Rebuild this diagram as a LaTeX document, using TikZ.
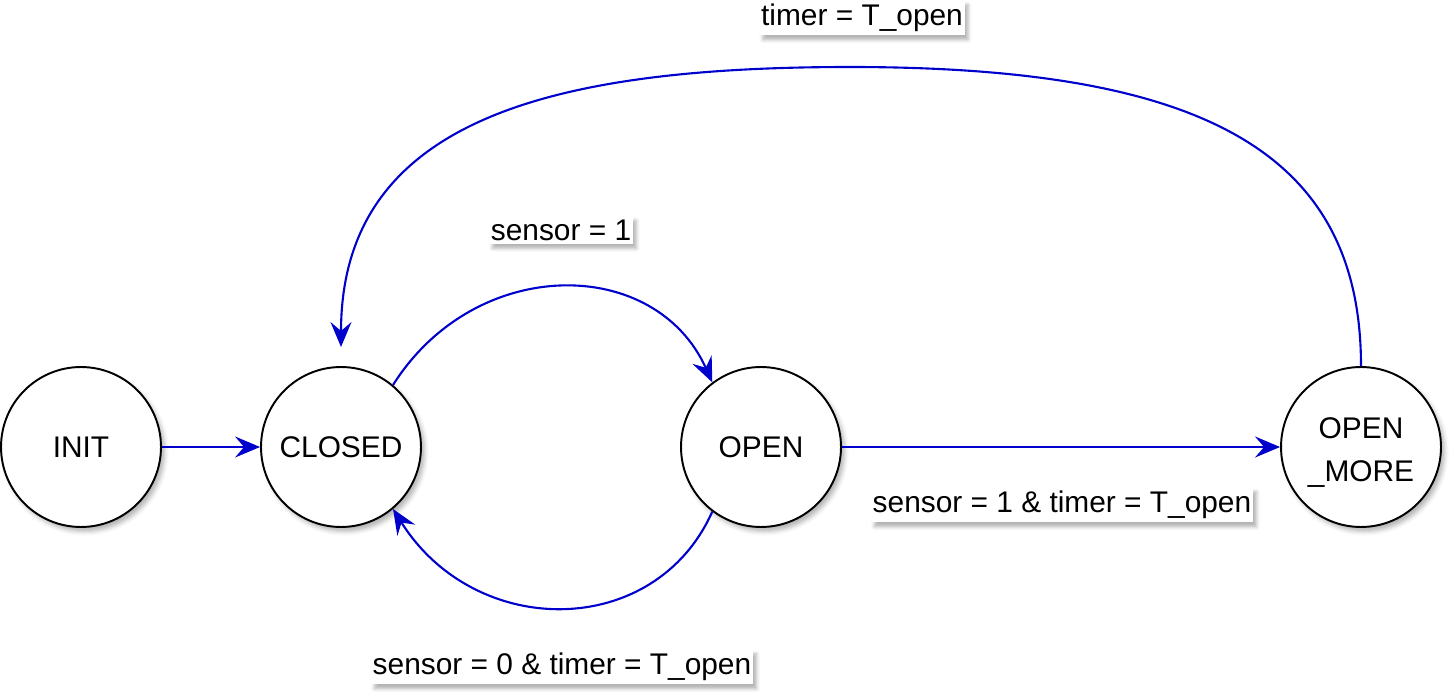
\documentclass[tikz,border=0pt]{standalone}
\usepackage{fontspec}
\setmainfont{Liberation Sans}
\usetikzlibrary{arrows.meta,shadows.blur}
\definecolor{edgeblue}{HTML}{0000CC}

\begin{document}
\begin{tikzpicture}
  [x=0.02cm,y=-0.02cm,every node/.style={font=\fontsize{17}{24.4}\selectfont}]
 \tikzset{StateStyle/.style={circle,draw,line width=1.1pt,fill=white,minimum size=3.2cm,inner sep=0pt,align=center,
   blur shadow={shadow xshift=2pt,shadow yshift=-2.5pt,shadow blur radius=2.5pt,shadow opacity=30}}}
 \tikzset{LabelStyle/.style={fill=white,inner xsep=1pt,inner ysep=2pt,
   blur shadow={shadow xshift=2pt,shadow yshift=-2.5pt,shadow blur radius=2pt,shadow opacity=30}}}
 \tikzset{EdgeStyle/.style={-{Stealth[length=5mm,width=4.2mm,inset=1.8mm]},draw=edgeblue,line width=1.2pt}}
 \useasboundingbox (0,0) rectangle (1454,696);

  \node[StateStyle] (init) at (81,447) {INIT};
 \node[StateStyle] (closed) at (341,447) {CLOSED};
  \node[StateStyle] (open) at (761,447) {OPEN};
 \node[StateStyle] (openmore) at (1361,447) {\rule{0pt}{18pt}OPEN\\\_MORE};
  \coordinate (abovecl) at (341,347);

 \node[LabelStyle] (tlabel) at (862,18) {timer = T\_open};
  \node[LabelStyle] (slabel) at (561,230) {sensor = 1};
 \node[LabelStyle] (stlabel) at (1062,505) {sensor = 1 \& timer = T\_open};
  \node[LabelStyle] (s0label) at (562,667) {sensor = 0 \& timer = T\_open};

 \foreach \from/\to in {init/closed,open/openmore}
    \draw[EdgeStyle] (\from) -- (\to);

 \draw[EdgeStyle] (closed.50) .. controls (475,255) and (655,255) .. (open.127);
 \draw[EdgeStyle] (open.233) .. controls (655,640) and (475,640) .. (closed.310);
 \draw[EdgeStyle] (openmore.north) .. controls (1361,150) and (1200,67) .. (850,67)
    .. controls (550,67) and (341,120) .. (abovecl);

\end{tikzpicture}
\end{document}
